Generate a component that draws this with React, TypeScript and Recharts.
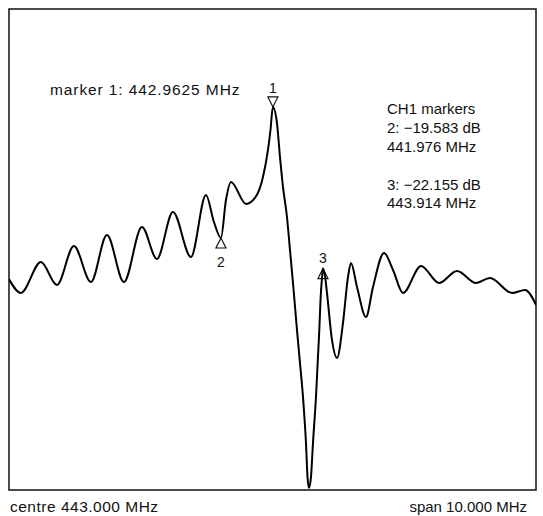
import React from 'react';
import { LineChart, Line, XAxis, YAxis, ReferenceArea, ReferenceDot, Customized } from 'recharts';

// Trace: frequency (MHz) and level (dB)
const freqMHz = [
  437.948, 438.176, 438.556, 438.86, 439.183, 439.506, 439.81, 440.133, 440.475, 440.76,
  441.064, 441.406, 441.691, 441.843, 441.976, 442.071, 442.166, 442.451, 442.622, 442.774,
  442.869, 442.917, 442.962, 443.04, 443.097, 443.154, 443.23, 443.287, 443.344, 443.42,
  443.477, 443.534, 443.591, 443.62, 443.648, 443.686, 443.724, 443.781, 443.844, 443.867,
  443.895, 443.914, 443.952, 443.99, 444.085, 444.18, 444.294, 444.389, 444.446, 444.56,
  444.731, 444.864, 445.073, 445.244, 445.434, 445.776, 446.118, 446.46, 446.821, 447.087,
  447.505, 447.752, 447.961,
];
const levelDb = [
  -23.03, -24.2, -21.6, -23.53, -20.25, -23.28, -19.33, -23.28, -18.66, -21.34,
  -17.39, -21.18, -15.97, -18.24, -19.58, -16.39, -14.87, -16.72, -16.22, -14.45,
  -12.18, -10.5, -8.57, -9.92, -12.77, -15.29, -17.82, -20.59, -23.36, -27.31,
  -30.08, -32.94, -36.81, -39.66, -40.59, -39.66, -36.81, -32.94, -27.31, -24.79,
  -22.94, -22.155, -22.77, -24.2, -28.15, -29.66, -26.72, -22.86, -21.68, -23.7,
  -26.22, -23.7, -20.84, -22.27, -24.2, -21.93, -23.36, -22.35, -23.36, -22.94,
  -24.2, -23.95, -25.21,
];

// Markers
const markerIds = ['1', '2', '3'];
const markerFreq = [442.9625, 441.976, 443.914];
const markerDb = [-8.57, -19.583, -22.155];
const markerPointing = ['down', 'up', 'up'];
const markerLabelSide = ['above', 'below', 'above'];

// Annotation texts
const headerText = 'marker 1: 442.9625 MHz';
const readoutLines = ['CH1 markers', '2: \u221219.583 dB', '441.976 MHz', '3: \u221222.155 dB', '443.914 MHz'];
const footerLeft = 'centre 443.000 MHz';
const footerRight = 'span 10.000 MHz';

const X_DOMAIN: [number, number] = [437.95, 447.96];
const Y_DOMAIN: [number, number] = [-40.76, -0.34];

const FONT = '"Liberation Sans", Arial, Helvetica, sans-serif';
const INK = '#111';

const data = freqMHz.map((f, i) => ({ f, db: levelDb[i] }));

const makeMarkerShape = (idx: number) => (props: any) => {
  const { cx, cy } = props;
  const down = markerPointing[idx] === 'down';
  const pts = down
    ? `${cx - 5},${cy - 10} ${cx + 5},${cy - 10} ${cx},${cy}`
    : `${cx},${cy} ${cx - 5},${cy + 10} ${cx + 5},${cy + 10}`;
  let ly: number;
  if (markerLabelSide[idx] === 'below') ly = cy + 29;
  else ly = down ? cy - 14 : cy - 6;
  return (
    <g>
      <polygon points={pts} fill="none" stroke={INK} strokeWidth={1.2} />
      <text x={cx} y={ly} textAnchor="middle" fontFamily={FONT} fontSize={14} fill={INK}>
        {markerIds[idx]}
      </text>
    </g>
  );
};

const Annotations = () => (
  <g fontFamily={FONT} fill={INK}>
    <text x={50} y={95} fontSize={15.5} letterSpacing={0.9}>{headerText}</text>
    {readoutLines.map((t, i) => (
      <text key={i} x={387} y={[114, 133, 152, 190, 208][i]} fontSize={15}>
        {t}
      </text>
    ))}
    <text x={10} y={512} fontSize={15.5} letterSpacing={0.5}>{footerLeft}</text>
    <text x={527} y={512} fontSize={15} textAnchor="end">{footerRight}</text>
  </g>
);

export default function App() {
  return (
    <div style={{ position: 'absolute', left: 0, top: 0, width: 543, height: 516, background: '#fff' }}>
      <LineChart width={543} height={516} data={data} margin={{ top: 9, right: 7, bottom: 26, left: 9 }}>
        <XAxis type="number" dataKey="f" domain={X_DOMAIN} hide allowDataOverflow />
        <YAxis type="number" domain={Y_DOMAIN} hide allowDataOverflow />
        <ReferenceArea
          x1={X_DOMAIN[0]}
          x2={X_DOMAIN[1]}
          y1={Y_DOMAIN[0]}
          y2={Y_DOMAIN[1]}
          fill="none"
          stroke={INK}
          strokeWidth={1.5}
          ifOverflow="visible"
        />
        <Line
          type="monotone"
          dataKey="db"
          stroke="#000"
          strokeWidth={2}
          dot={false}
          isAnimationActive={false}
        />
        {markerIds.map((id, i) => (
          <ReferenceDot
            key={id}
            x={markerFreq[i]}
            y={markerDb[i]}
            ifOverflow="visible"
            shape={makeMarkerShape(i)}
          />
        ))}
        <Customized component={Annotations} />
      </LineChart>
    </div>
  );
}
